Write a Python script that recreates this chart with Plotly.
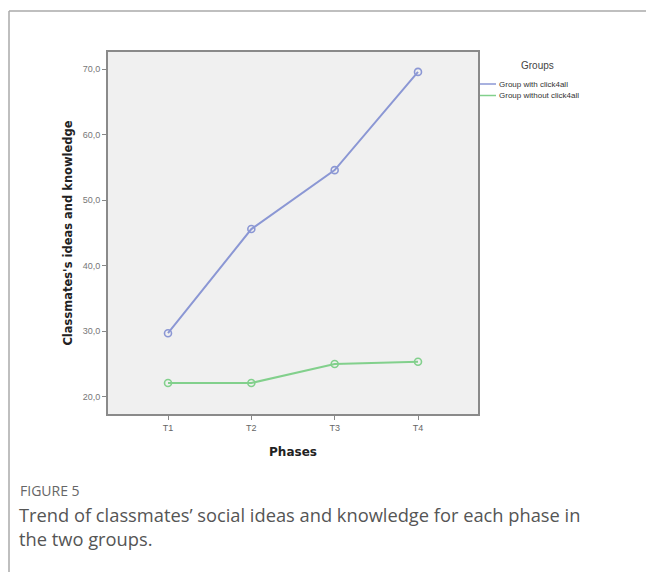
import plotly.graph_objects as go

phases = ["T1", "T2", "T3", "T4"]
with_click4all = [29.7, 45.6, 54.6, 69.6]
without_click4all = [22.1, 22.1, 25.0, 25.35]
y_ticks = [20, 30, 40, 50, 60, 70]
y_tick_labels = ["20,0", "30,0", "40,0", "50,0", "60,0", "70,0"]
series_names = ["Group with click4all", "Group without click4all"]
series_colors = ["#8b97d4", "#82d08c"]

W, H = 646, 572
x0, x1 = 108 / W, 478 / W
y0, y1 = (H - 414) / H, (H - 52) / H

fig = go.Figure()
for name, vals, col in zip(series_names, [with_click4all, without_click4all], series_colors):
    fig.add_trace(go.Scatter(
        x=phases, y=vals, mode="lines+markers", name=name,
        line=dict(color=col, width=2),
        marker=dict(symbol="circle-open", size=7, color=col, line=dict(width=1.6)),
        showlegend=False,
    ))

fig.update_layout(
    width=W, height=H,
    margin=dict(l=0, r=0, t=0, b=0),
    paper_bgcolor="white",
    plot_bgcolor="#f0f0f0",
    font=dict(family="Liberation Sans, Arial", color="#555"),
    xaxis=dict(
        domain=[x0, x1], type="category", range=[-0.72, 3.72],
        showgrid=False, zeroline=False,
        showline=True, linecolor="#8a8a8a", linewidth=2, mirror=True,
        ticks="outside", ticklen=4, tickcolor="#888", tickwidth=1,
        tickfont=dict(size=9, color="#666"),
        title=dict(text="<b>Phases</b>", font=dict(size=12, color="#222", family="DejaVu Sans"), standoff=16),
    ),
    yaxis=dict(
        domain=[y0, y1], range=[17.36, 72.64],
        tickvals=y_ticks, ticktext=y_tick_labels,
        showgrid=False, zeroline=False,
        showline=True, linecolor="#8a8a8a", linewidth=2, mirror=True,
        ticks="outside", ticklen=4, tickcolor="#888", tickwidth=1,
        tickfont=dict(size=9, color="#777"),
        title=dict(text="<b>Classmates's ideas and knowledge</b>", font=dict(size=11.5, color="#222", family="DejaVu Sans"), standoff=8),
    ),
    showlegend=False,
)

# manual legend
fig.add_annotation(x=537 / W, y=(H - 65) / H, xref="paper", yref="paper", xanchor="center", yanchor="middle",
                   text="Groups", showarrow=False, font=dict(size=10, color="#444"))
for i, (name, col) in enumerate(zip(series_names, series_colors)):
    yy = (H - (84 + 11.5 * i)) / H
    fig.add_shape(type="line", xref="paper", yref="paper", x0=480 / W, x1=496 / W, y0=yy, y1=yy,
                  line=dict(color=col, width=1.5))
    fig.add_annotation(x=497 / W, y=yy, xref="paper", yref="paper", xanchor="left", yanchor="middle",
                       text=name, showarrow=False, font=dict(size=8, color="#333"))

# outer frame lines
fig.add_shape(type="line", xref="paper", yref="paper", x0=9 / W, x1=1, y0=(H - 11) / H, y1=(H - 11) / H,
              line=dict(color="#aaaaaa", width=1.5))
fig.add_shape(type="line", xref="paper", yref="paper", x0=9 / W, x1=9 / W, y0=0, y1=(H - 11) / H,
              line=dict(color="#aaaaaa", width=1.5))

fig.add_annotation(x=18 / W, y=(H - 490) / H, xref="paper", yref="paper", xanchor="left", yanchor="middle",
                   text="FIGURE 5", showarrow=False, font=dict(family="Open Sans", size=14, color="#666"))
fig.add_annotation(x=17 / W, y=(H - 526.5) / H, xref="paper", yref="paper", xanchor="left", yanchor="middle",
                   align="left",
                   text="Trend of classmates\u2019 social ideas and knowledge for each phase in<br>the two groups.",
                   showarrow=False, font=dict(family="Open Sans", size=18.3, color="#555"))

fig.write_html("out.html", config={"displayModeBar": False},
               post_script="document.body.style.margin='0';")
